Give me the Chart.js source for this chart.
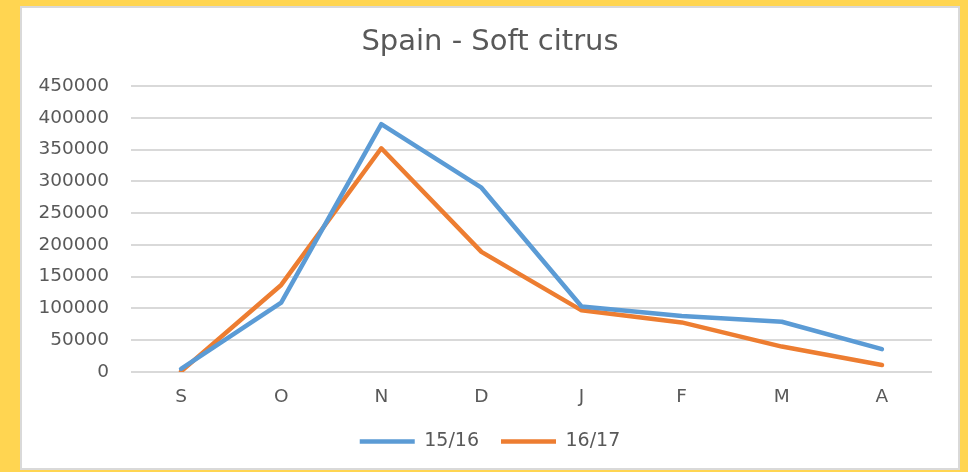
<!DOCTYPE html>
<html>
<head>
<meta charset="utf-8">
<script src="https://cdn.jsdelivr.net/npm/chart.js@4"></script>
<style>
  html, body { margin: 0; padding: 0; overflow: hidden; }
  body { width: 968px; height: 472px; background: #ffd551; position: relative; }
  #panel {
    position: absolute; left: 20px; top: 6px;
    width: 936px; height: 460px;
    background: #ffffff; border: 2px solid #d9d9d9;
  }
  #chart { display: block; }
</style>
</head>
<body>
<div id="panel"><canvas id="chart" width="936" height="460"></canvas></div>
<script>
const textColor = '#595959'
const gridColor = '#d9d9d9'
const blueColor = '#5b9bd5'
const orangeColor = '#ed7d31'
const fontName = '"DejaVu Sans", sans-serif'

const months = ['S', 'O', 'N', 'D', 'J', 'F', 'M', 'A']
const season1516 = [5000, 109000, 390000, 290000, 103000, 88000, 79000, 36000]
const season1617 = [1000, 137000, 352000, 189000, 97000, 78000, 40000, 11000]

const yMin = 0
const yMax = 450000
const yStep = 50000

function makeLine(label, values, color) {
    return {
        label: label,
        data: values,
        borderColor: color,
        backgroundColor: color,
        borderWidth: 4.5,
        borderCapStyle: 'round',
        borderJoinStyle: 'round',
        pointRadius: 0,
        pointHoverRadius: 0,
        tension: 0,
        fill: false
    }
}

var ctx = document.getElementById('chart')

var lineChart = new Chart(ctx, {
    type: 'line',
    data: {
        labels: months,
        datasets: [
            makeLine('15/16', season1516, blueColor),
            makeLine('16/17', season1617, orangeColor)
        ]
    },
    options: {
        responsive: false,
        animation: false,
        layout: { padding: { left: 13, right: 13, top: 0, bottom: 7 } },
        plugins: {
            title: {
                display: true,
                text: 'Spain - Soft citrus',
                color: textColor,
                font: { family: fontName, size: 29, weight: 'normal', lineHeight: 1.2 },
                padding: { top: 16.6, bottom: 26.6 }
            },
            legend: {
                display: true,
                position: 'bottom',
                labels: {
                    color: textColor,
                    font: { family: fontName, size: 19 },
                    usePointStyle: true,
                    pointStyle: 'line',
                    pointStyleWidth: 55,
                    padding: 22
                }
            },
            tooltip: { enabled: false }
        },
        scales: {
            x: {
                offset: true,
                grid: { display: false, drawTicks: false },
                border: { display: false },
                ticks: {
                    color: textColor,
                    font: { family: fontName, size: 18.5 },
                    padding: 14,
                    maxRotation: 0,
                    autoSkip: false
                },
                afterFit: function (scale) { scale.height = 38 }
            },
            y: {
                min: yMin,
                max: yMax,
                grid: { color: gridColor, lineWidth: 2, drawTicks: false },
                border: { display: false },
                ticks: {
                    stepSize: yStep,
                    color: textColor,
                    font: { family: fontName, size: 18.5 },
                    padding: 22,
                    callback: function (value) { return String(value) }
                },
                afterFit: function (scale) { scale.width = 96 }
            },
            // empty right axis, only keeps space so title and legend stay centred
            yRight: {
                position: 'right',
                display: true,
                grid: { display: false, drawTicks: false },
                border: { display: false },
                ticks: { display: false },
                afterFit: function (scale) { scale.width = 13 }
            }
        }
    }
})
</script>
</body>
</html>
